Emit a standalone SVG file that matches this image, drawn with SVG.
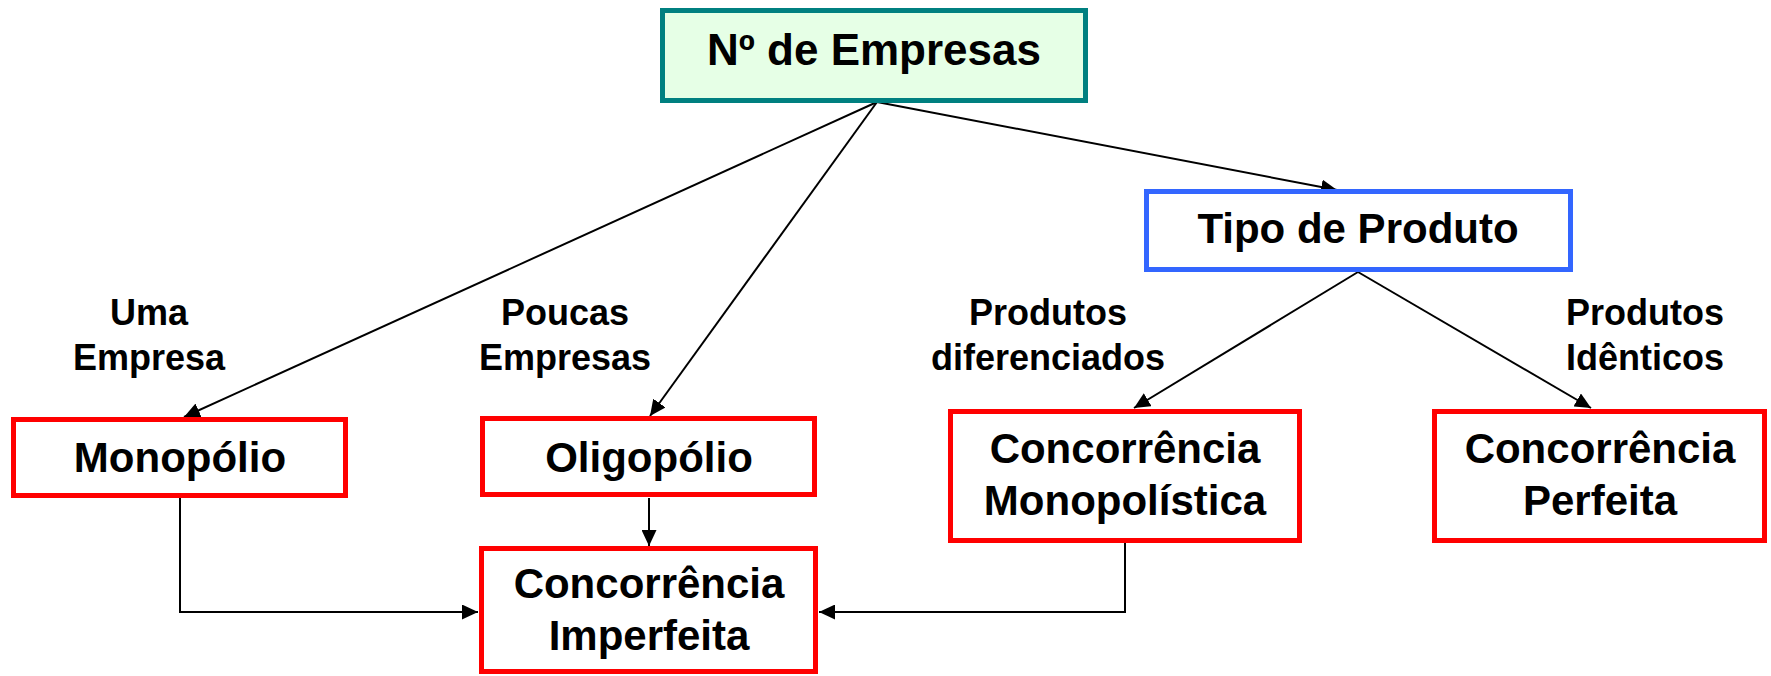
<svg xmlns="http://www.w3.org/2000/svg" width="1771" height="676" viewBox="0 0 1771 676">
  <defs>
    <style>
      .t { font-family: "Liberation Sans", Arial, sans-serif; font-weight: bold; fill: #000; text-anchor: middle; }
      .big { font-size: 44px; }
      .node { font-size: 42px; }
      .lbl { font-size: 36px; }
      .red { fill: #fff; stroke: #FF0000; stroke-width: 5; }
      .edge { fill: none; stroke: #000; stroke-width: 2; }
    </style>
    <marker id="arr" viewBox="0 0 16 15" refX="16" refY="7.5" markerWidth="16" markerHeight="15" markerUnits="userSpaceOnUse" orient="auto">
      <path d="M0,0 L16,7.5 L0,15 z" fill="#000"/>
    </marker>
  </defs>

  <g id="connectors">
    <line class="edge" x1="877" y1="102" x2="184" y2="417" marker-end="url(#arr)"/>
    <line class="edge" x1="877" y1="102" x2="650" y2="416" marker-end="url(#arr)"/>
    <line class="edge" x1="877" y1="102" x2="1337" y2="190" marker-end="url(#arr)"/>
    <line class="edge" x1="1358" y1="272" x2="1134" y2="408" marker-end="url(#arr)"/>
    <line class="edge" x1="1358" y1="272" x2="1591" y2="408" marker-end="url(#arr)"/>
    <line class="edge" x1="649" y1="498" x2="649" y2="546" marker-end="url(#arr)"/>
    <polyline class="edge" points="180,498 180,612 478,612" marker-end="url(#arr)"/>
    <polyline class="edge" points="1125,543 1125,612 819,612" marker-end="url(#arr)"/>
  </g>

  <g id="labels">
    <text class="t lbl" x="149" y="325">Uma</text>
    <text class="t lbl" x="149" y="370">Empresa</text>
    <text class="t lbl" x="565" y="325">Poucas</text>
    <text class="t lbl" x="565" y="370">Empresas</text>
    <text class="t lbl" x="1048" y="325">Produtos</text>
    <text class="t lbl" x="1048" y="370">diferenciados</text>
    <text class="t lbl" x="1645" y="325">Produtos</text>
    <text class="t lbl" x="1645" y="370">Idênticos</text>
  </g>

  <g id="n-empresas">
    <rect x="662.5" y="10.5" width="423" height="90" fill="#E6FFE6" stroke="#008080" stroke-width="5"/>
    <text class="t big" x="874" y="65">Nº de Empresas</text>
  </g>
  <g id="n-tipo">
    <rect x="1146.5" y="191.5" width="424" height="78" fill="#fff" stroke="#3366FF" stroke-width="5"/>
    <text class="t node" x="1358" y="243">Tipo de Produto</text>
  </g>
  <g id="n-monopolio">
    <rect class="red" x="13.5" y="419.5" width="332" height="76"/>
    <text class="t node" x="180" y="472">Monopólio</text>
  </g>
  <g id="n-oligopolio">
    <rect class="red" x="482.5" y="418.5" width="332" height="76"/>
    <text class="t node" x="649" y="472">Oligopólio</text>
  </g>
  <g id="n-imperfeita">
    <rect class="red" x="481.5" y="548.5" width="334" height="123"/>
    <text class="t node" x="649" y="598">Concorrência</text>
    <text class="t node" x="649" y="650">Imperfeita</text>
  </g>
  <g id="n-monopolistica">
    <rect class="red" x="950.5" y="411.5" width="349" height="129"/>
    <text class="t node" x="1125" y="463">Concorrência</text>
    <text class="t node" x="1125" y="515">Monopolística</text>
  </g>
  <g id="n-perfeita">
    <rect class="red" x="1434.5" y="411.5" width="330" height="129"/>
    <text class="t node" x="1600" y="463">Concorrência</text>
    <text class="t node" x="1600" y="515">Perfeita</text>
  </g>
</svg>
